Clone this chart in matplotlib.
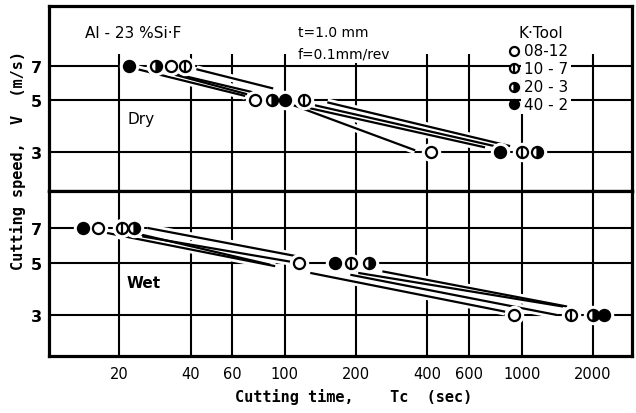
import matplotlib
matplotlib.use("Agg")
import matplotlib.pyplot as plt
import numpy as np

# ---------------- data ----------------
tools = ['08-12', '10-7', '20-3', '40-2']
speeds = [7, 5, 3]  # m/s

# Dry: cutting time (sec) at V = 7, 5, 3
dry_0812 = [33, 75, 414]
dry_107 = [38, 120, 1000]
dry_203 = [28.5, 88, 1160]
dry_402 = [22, 100, 810]

# Wet
wet_0812 = [16.3, 115, 930]
wet_107 = [20.6, 190, 1615]
wet_203 = [23.1, 227, 2000]
wet_402 = [14.1, 163, 2225]

# tool-life lines drawn in the panels (start / end)
dry_line_T = [(23.6, 68.0), (30.7, 69.3), (32.2, 73.5), (42.3, 89.3),
              (103, 355), (122, 700), (134, 810), (151, 893)]
dry_line_V = [(6.82, 5.22), (6.64, 5.31), (6.60, 5.41), (6.80, 5.62),
              (4.86, 3.05), (4.67, 3.14), (4.76, 3.14), (4.90, 3.18)]
wet_line_T = [(17.5, 91.0), (24.5, 86.7), (25.0, 105.3), (26.3, 112.7),
              (128, 851), (189, 1410), (204, 1494), (258, 1554)]
wet_line_V = [(6.71, 4.83), (6.60, 4.90), (6.47, 5.05), (7.03, 5.32),
              (4.52, 3.09), (4.44, 2.99), (4.52, 3.25), (4.59, 3.25)]

x_ticks = [20, 40, 60, 100, 200, 400, 600, 1000, 2000]
y_ticks = [3, 5, 7]

# ---------------- figure ----------------
W, H = 636, 414
fig = plt.figure(figsize=(W / 100, H / 100), dpi=100)
fig.patch.set_facecolor('white')

L, R = 49 / W, 632 / W
y_top, y_mid, y_bot = 1 - 7 / H, 1 - 192 / H, 1 - 357 / H
ax_d = fig.add_axes([L, y_mid, R - L, y_top - y_mid])
ax_w = fig.add_axes([L, y_bot, R - L, y_mid - y_bot])

XLIM = (10.1, 2920)
GRID_LW = 1.5
LINE_LW = 1.6
MS = 8.0

for ax, ylim, vtop in [(ax_d, (2.04, 12.7), 7.9), (ax_w, (2.0, 10.1), 10.1)]:
    ax.set_xscale('log')
    ax.set_yscale('log')
    ax.set_xlim(*XLIM)
    ax.set_ylim(*ylim)
    ax.minorticks_off()
    ax.set_yticks(y_ticks)
    ax.set_yticklabels([str(v) for v in y_ticks], fontsize=11.5, fontweight='bold')
    ax.tick_params(axis='y', length=0, pad=5)
    for s in ax.spines.values():
        s.set_linewidth(2.3)
        s.set_zorder(10)
    for v in y_ticks:
        ax.axhline(v, color='black', lw=GRID_LW, zorder=1)
    ax.vlines(x_ticks, ylim[0], vtop, color='black', lw=GRID_LW, zorder=1)

ax_d.set_xticks(x_ticks)
ax_d.tick_params(axis='x', length=0, labelbottom=False)
ax_w.set_xticks(x_ticks)
ax_w.set_xticklabels([str(v) for v in x_ticks], fontsize=10.5)
ax_w.tick_params(axis='x', length=0, pad=7)


def draw_marker(ax, x, y, kind, ms=MS, halo_on=True):
    if halo_on:
        ax.plot(x, y, 'o', ms=ms + 5, color='white', mec='white', zorder=4)
    if kind == '08-12':
        ax.plot(x, y, 'o', ms=ms, mfc='white', mec='black', mew=1.6, zorder=5)
    elif kind == '10-7':
        ax.plot(x, y, 'o', ms=ms, mfc='white', mec='black', mew=1.6, zorder=5)
        ax.plot(x, y, '|', ms=ms, mec='black', mew=1.6, zorder=6)
    elif kind == '20-3':
        ax.plot(x, y, 'o', ms=ms, fillstyle='right', mfc='black',
                markerfacecoloralt='white', mec='black', mew=1.6, zorder=5)
    else:
        ax.plot(x, y, 'o', ms=ms, mfc='black', mec='black', mew=1.6, zorder=5)


def draw_panel(ax, series, line_T, line_V):
    for (t0, t1), (v0, v1) in zip(line_T, line_V):
        ax.plot([t0, t1], [v0, v1], color='white', lw=LINE_LW + 4,
                solid_capstyle='butt', zorder=2)
    for (t0, t1), (v0, v1) in zip(line_T, line_V):
        ax.plot([t0, t1], [v0, v1], color='black', lw=LINE_LW,
                solid_capstyle='butt', zorder=3)
    for kind, ts in zip(tools, series):
        for t, v in zip(ts, speeds):
            draw_marker(ax, t, v, kind)


draw_panel(ax_d, [dry_0812, dry_107, dry_203, dry_402], dry_line_T, dry_line_V)
draw_panel(ax_w, [wet_0812, wet_107, wet_203, wet_402], wet_line_T, wet_line_V)

# ---------------- text ----------------
wbox = dict(facecolor='white', edgecolor='none', pad=2)


def px(x, y):
    return x / W, 1 - y / H


fig.text(*px(133, 33), 'Al - 23 %Si·F', fontsize=11, ha='center', va='center',
         bbox=wbox, zorder=7)
fig.text(*px(298, 33), 't=1.0 mm', fontsize=10, ha='left', va='center',
         bbox=wbox, zorder=7)
fig.text(*px(298, 54), 'f=0.1mm/rev', fontsize=10, ha='left', va='center',
         bbox=wbox, zorder=7)
fig.text(*px(541, 33), 'K·Tool', fontsize=11, ha='center', va='center',
         bbox=wbox, zorder=7)

leg_y = [52, 69, 88, 105]
leg_lbl = ['08-12', '10 - 7', '20 - 3', '40 - 2']
for kind, yy, lab in zip(tools, leg_y, leg_lbl):
    fig.text(*px(524, yy), lab, fontsize=11, ha='left', va='center',
             bbox=wbox, zorder=7)
for kind, yy in zip(tools, leg_y):
    xf, yf = px(514, yy)
    xd, yd = ax_d.transData.inverted().transform(fig.transFigure.transform((xf, yf)))
    draw_marker(ax_d, xd, yd, kind, ms=6.5, halo_on=False)

fig.text(*px(141, 120), 'Dry', fontsize=11, ha='center', va='center',
         bbox=wbox, zorder=7)
fig.text(*px(144, 284), 'Wet', fontsize=11, ha='center', va='center',
         fontweight='bold', bbox=wbox, zorder=7)

fig.text(*px(18, 161), 'Cutting speed,  V  (m/s)', rotation=90, fontsize=11,
         family='DejaVu Sans Mono', fontweight='bold', ha='center', va='center')
fig.text(*px(354, 397), 'Cutting time,    Tc  (sec)', fontsize=11,
         family='DejaVu Sans Mono', fontweight='bold', ha='center', va='center')

fig.savefig('out.png', dpi=100, facecolor='white')
